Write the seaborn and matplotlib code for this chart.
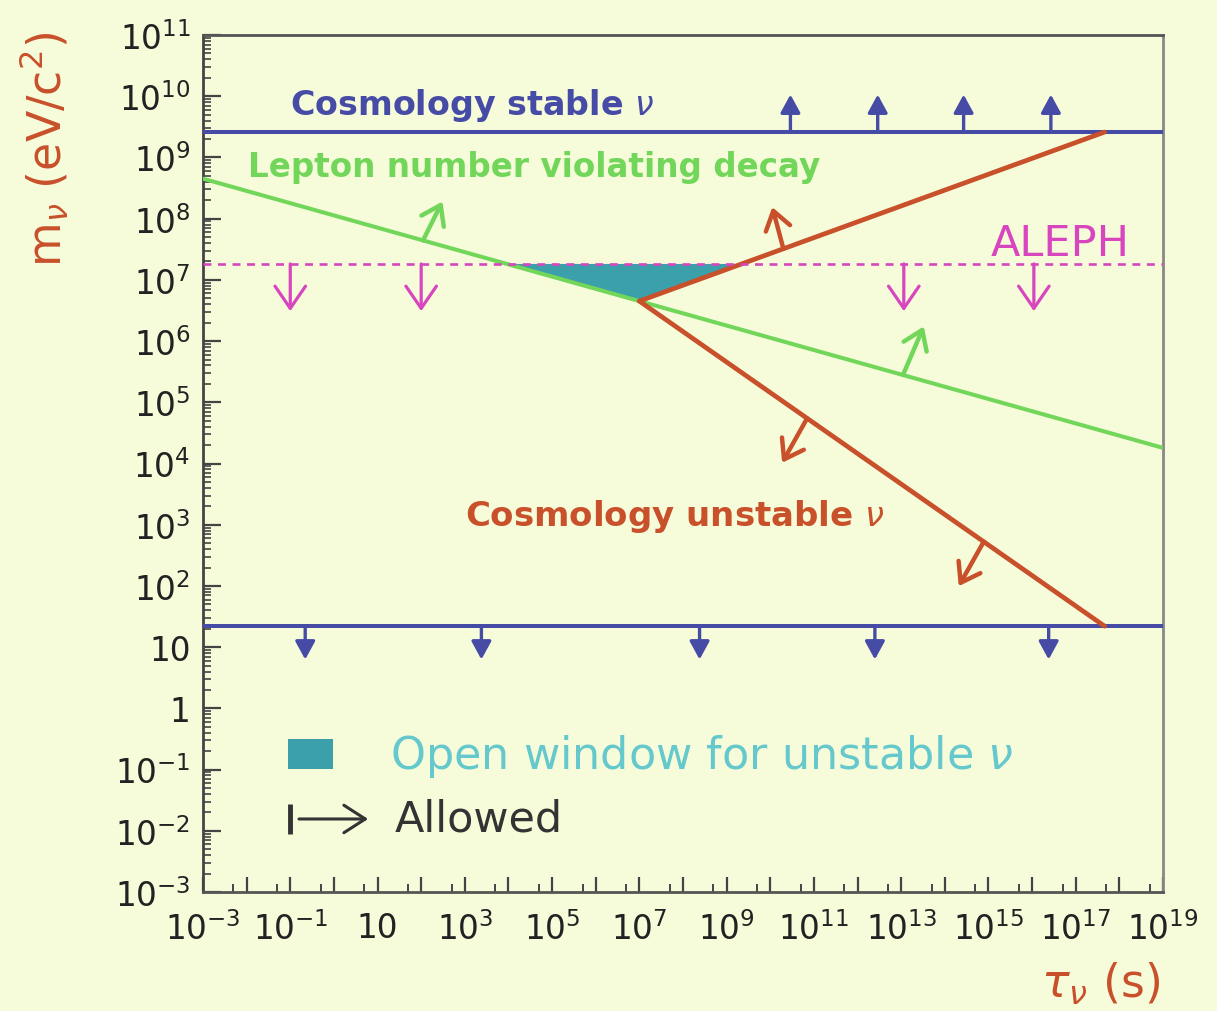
import numpy as np
import matplotlib
matplotlib.use("Agg")
import matplotlib.pyplot as plt
from matplotlib import ticker, transforms
from matplotlib.patches import Rectangle
import seaborn as sns

# ---- limits on the tau-neutrino mass (eV/c^2) versus lifetime (s) ----
stable_upper_mass = 2.6e9      # cosmology, stable neutrino (upper branch)
stable_lower_mass = 22.0       # cosmology, stable neutrino (lower branch)
aleph_mass = 1.82e7            # ALEPH direct limit

# lepton-number-violating decay bound
lnv_tau = [1e-3, 1e7, 1e19]
lnv_mass = [4.5e8, 4.5e6, 1.8e4]

# cosmology bounds for an unstable neutrino
unstable_upper_tau = [1e7, 4.6e17]
unstable_upper_mass = [4.5e6, 2.6e9]
unstable_lower_tau = [1e7, 4.6e17]
unstable_lower_mass = [4.5e6, 22.0]

# lifetimes at which the "allowed" arrows are attached
stable_up_arrow_tau = [2.9e10, 2.9e12, 2.7e14, 2.7e16]
stable_down_arrow_tau = [0.22, 2.4e3, 2.4e8, 2.5e12, 2.4e16]
aleph_arrow_tau = [0.1, 100, 1.15e13, 1.1e16]
lnv_arrow_tau = [110, 1.1e13]
unstable_up_arrow_tau = [2e10]
unstable_down_arrow_tau = [7e10, 7.8e14]

x_ticks = [10.0 ** e for e in range(-3, 20)]
y_ticks = [10.0 ** e for e in range(-3, 12)]

BG = "#f6fcda"
BLUE = "#464ba5"
GREEN = "#72d65a"
RED = "#c8502a"
MAGENTA = "#d746be"
TEAL = "#3ca0aa"
TEAL_TEXT = "#64c8cd"
INK = "#333333"

sns.set_theme(style="ticks")
plt.rcParams["font.family"] = ["DejaVu Sans"]
plt.rcParams["mathtext.fontset"] = "dejavusans"
plt.rcParams["axes.facecolor"] = BG
plt.rcParams["figure.facecolor"] = BG

fig = plt.figure(figsize=(12.17, 10.12), dpi=100)
ax = fig.add_axes([0.1668, 0.1176, 0.7888, 0.8468])
ax.set_xscale("log")
ax.set_yscale("log")
ax.set_xlim(1e-3, 1e19)
ax.set_ylim(1e-3, 1e11)

lg = np.log10

# open window between the ALEPH limit, the LNV bound and the unstable bound
tau_left = 10 ** np.interp(lg(aleph_mass), lg(lnv_mass)[::-1], lg(lnv_tau)[::-1])
tau_right = 10 ** np.interp(lg(aleph_mass), lg(unstable_upper_mass), lg(unstable_upper_tau))
ax.fill([tau_left, unstable_upper_tau[0], tau_right],
        [aleph_mass, unstable_upper_mass[0], aleph_mass],
        color=TEAL, lw=0, zorder=2)

# horizontal limits
ax.axhline(stable_upper_mass, color=BLUE, lw=2.9, zorder=3)
ax.axhline(stable_lower_mass, color=BLUE, lw=2.9, zorder=3)
ax.axhline(aleph_mass, color=MAGENTA, lw=1.9, ls=(0, (3, 2.5)), zorder=4)

# sloped bounds
sns.lineplot(x=lnv_tau, y=lnv_mass, ax=ax, color=GREEN, lw=2.9,
             estimator=None, sort=False, zorder=3)
sns.lineplot(x=unstable_upper_tau, y=unstable_upper_mass, ax=ax, color=RED,
             lw=3.4, estimator=None, sort=False, zorder=3)
sns.lineplot(x=unstable_lower_tau, y=unstable_lower_mass, ax=ax, color=RED,
             lw=3.4, estimator=None, sort=False, zorder=3)


def on_line(tau, xs, ys):
    return 10 ** np.interp(lg(tau), lg(xs), lg(ys))


def allowed_arrow(tau, mass, dx, dy, color, style, lw=2.4, scale=20):
    tip = transforms.offset_copy(ax.transData, fig=fig, x=dx, y=dy, units="points")
    ax.annotate("", xy=(tau, mass), xycoords=tip,
                xytext=(tau, mass), textcoords="data",
                arrowprops=dict(arrowstyle=style, color=color, lw=lw,
                                shrinkA=0, shrinkB=0, mutation_scale=scale),
                zorder=5)


for t in stable_up_arrow_tau:
    allowed_arrow(t, stable_upper_mass, 0, 27, BLUE,
                  "-|>,head_length=0.55,head_width=0.3")
for t in stable_down_arrow_tau:
    allowed_arrow(t, stable_lower_mass, 0, -24, BLUE,
                  "-|>,head_length=0.55,head_width=0.3")
for t in aleph_arrow_tau:
    allowed_arrow(t, aleph_mass, 0, -34, MAGENTA,
                  "->,head_length=0.8,head_width=0.55", lw=2.3)
lnv_offsets = [(14, 28), (15, 35)]
for t, (dx, dy) in zip(lnv_arrow_tau, lnv_offsets):
    allowed_arrow(t, on_line(t, lnv_tau, lnv_mass), dx, dy, GREEN,
                  "->,head_length=0.65,head_width=0.45", lw=3.2)
for t in unstable_up_arrow_tau:
    allowed_arrow(t, on_line(t, unstable_upper_tau, unstable_upper_mass),
                  -8, 30, RED, "->,head_length=0.65,head_width=0.45", lw=3.2)
for t in unstable_down_arrow_tau:
    allowed_arrow(t, on_line(t, unstable_lower_tau, unstable_lower_mass),
                  -18, -32, RED, "->,head_length=0.65,head_width=0.45", lw=3.2)

# curve labels
ax.text(0.0906, 0.919, r"Cosmology stable $\nu$", transform=ax.transAxes,
        color=BLUE, fontsize=24, fontweight="bold", va="center", ha="left")
ax.text(0.0469, 0.847, "Lepton number violating decay", transform=ax.transAxes,
        color=GREEN, fontsize=23.5, fontweight="bold", va="center", ha="left")
ax.text(0.820, 0.757, "ALEPH", transform=ax.transAxes,
        color=MAGENTA, fontsize=31, va="center", ha="left")
ax.text(0.273, 0.439, r"Cosmology unstable $\nu$", transform=ax.transAxes,
        color=RED, fontsize=24.5, fontweight="bold", va="center", ha="left")

# key
ax.add_patch(Rectangle((0.0885, 0.1435), 0.0465, 0.035, transform=ax.transAxes,
                       color=TEAL, lw=0, zorder=5))
ax.text(0.195, 0.1595, r"Open window for unstable $\nu$", transform=ax.transAxes,
        color=TEAL_TEXT, fontsize=32, va="center", ha="left")
ax.plot([0.0906, 0.0906], [0.068, 0.1025], transform=ax.transAxes,
        color=INK, lw=3.5, solid_capstyle="butt")
ax.annotate("", xy=(0.172, 0.0852), xycoords="axes fraction",
            xytext=(0.1, 0.0852), textcoords="axes fraction",
            arrowprops=dict(arrowstyle="->,head_length=0.7,head_width=0.45",
                            color=INK, lw=2.2, shrinkA=0, shrinkB=0,
                            mutation_scale=22))
ax.text(0.200, 0.0852, "Allowed", transform=ax.transAxes,
        color=INK, fontsize=31, va="center", ha="left")


# axes, ticks and labels
def decade_label(v, pos, every_other=False):
    e = int(round(np.log10(v)))
    if every_other and e % 2 == 0:
        return ""
    if e == 0:
        return "1"
    if e == 1:
        return "10"
    return r"$10^{%d}$" % e


ax.xaxis.set_major_locator(ticker.FixedLocator(x_ticks))
ax.xaxis.set_major_formatter(ticker.FuncFormatter(
    lambda v, p: decade_label(v, p, every_other=True)))
ax.xaxis.set_minor_locator(ticker.LogLocator(base=10, subs=(5.0,), numticks=100))
ax.xaxis.set_minor_formatter(ticker.NullFormatter())
ax.yaxis.set_major_locator(ticker.FixedLocator(y_ticks))
ax.yaxis.set_major_formatter(ticker.FuncFormatter(decade_label))
ax.yaxis.set_minor_locator(ticker.LogLocator(base=10, subs=np.arange(2, 10),
                                             numticks=100))
ax.yaxis.set_minor_formatter(ticker.NullFormatter())

ax.tick_params(axis="both", which="both", direction="in", top=False, right=False,
               color="#444444", labelcolor="#222222")
ax.tick_params(axis="x", which="major", length=11, width=1.6, labelsize=23.5, pad=14)
ax.tick_params(axis="x", which="minor", length=6, width=1.4)
ax.tick_params(axis="y", which="major", length=13, width=1.6, labelsize=23.5, pad=9)
ax.tick_params(axis="y", which="minor", length=6, width=1.2)

for side, col in [("left", "#444444"), ("bottom", "#555555"),
                  ("top", "#555555"), ("right", "#888888")]:
    ax.spines[side].set_visible(True)
    ax.spines[side].set_color(col)
    ax.spines[side].set_linewidth(2.0)

ax.set_xlabel("")
ax.set_ylabel("")
fig.text(0.037, 0.852, r"m$_{\nu}$ (eV/c$^{2}$)", rotation=90, color=RED,
         fontsize=33, ha="center", va="center")
fig.text(0.953, 0.027, r"$\tau_{\nu}$ (s)", color=RED, fontsize=33,
         ha="right", va="center")

fig.savefig("out.png", dpi=100, facecolor=BG)
